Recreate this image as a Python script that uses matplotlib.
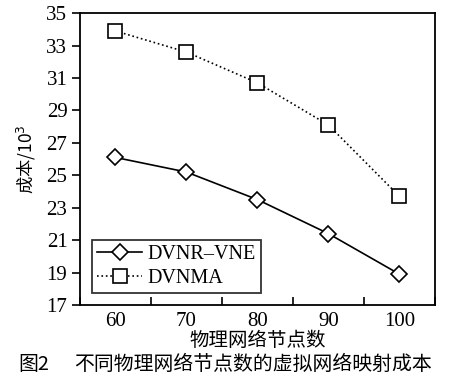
import matplotlib
matplotlib.use("Agg")
import matplotlib.pyplot as plt
from matplotlib.ticker import FixedLocator, NullFormatter

nodes = [60, 70, 80, 90, 100]
dvnr_vne = [26.1, 25.2, 23.5, 21.4, 18.9]
dvnma = [33.9, 32.6, 30.7, 28.1, 23.7]
yticks = [17, 19, 21, 23, 25, 27, 29, 31, 33, 35]
xtick_bounds = [55, 65, 75, 85, 95, 105]

serif = ['Liberation Serif', 'DejaVu Serif']
cjk = ['Noto Sans CJK SC', 'DejaVu Sans']

fig = plt.figure(figsize=(4.54, 3.82), dpi=100)
ax = fig.add_axes([0.176, 0.2016, 0.782, 0.764])

ax.plot(nodes, dvnr_vne, '-', color='black', lw=1.2, marker='D', ms=8.5,
        mfc='white', mec='black', mew=1.2, label='DVNR\u2013VNE')
ax.plot(nodes, dvnma, ':', color='black', lw=1.2, marker='s', ms=10,
        mfc='white', mec='black', mew=1.2, label='DVNMA')

ax.set_xlim(55, 105)
ax.set_ylim(17, 35)
ax.set_yticks(yticks)
ax.set_yticklabels([str(v) for v in yticks], family=serif, fontsize=15)
ax.xaxis.set_major_locator(FixedLocator(nodes))
ax.set_xticklabels([str(v) for v in nodes], family=serif, fontsize=15)
ax.tick_params(axis='x', which='major', length=0, pad=5)
ax.xaxis.set_minor_locator(FixedLocator(xtick_bounds))
ax.xaxis.set_minor_formatter(NullFormatter())
ax.tick_params(axis='x', which='minor', direction='in', length=6, width=1.2)
ax.tick_params(axis='y', direction='out', length=6, width=1.2, pad=3)
for s in ax.spines.values():
    s.set_linewidth(1.3)

ax.set_xlabel('物理网络节点数', family=cjk, fontsize=14, labelpad=-1)
ax.set_ylabel('成本/10$^3$', family=cjk, fontsize=12.5, labelpad=6)

leg = ax.legend(loc='lower left', bbox_to_anchor=(0.035, 0.04), prop={'family': serif, 'size': 14.5},
                frameon=True, fancybox=False, edgecolor='black', handlelength=2.2,
                borderpad=0.25, labelspacing=0.25, handletextpad=0.3, borderaxespad=0)
leg.get_frame().set_linewidth(1.3)

fig.text(0.04, 0.045, '图2', family=cjk, fontsize=14.3, va='center', ha='left')
fig.text(0.163, 0.045, '不同物理网络节点数的虚拟网络映射成本', family=cjk, fontsize=14.3,
         va='center', ha='left')

fig.savefig('out.png', dpi=100)
